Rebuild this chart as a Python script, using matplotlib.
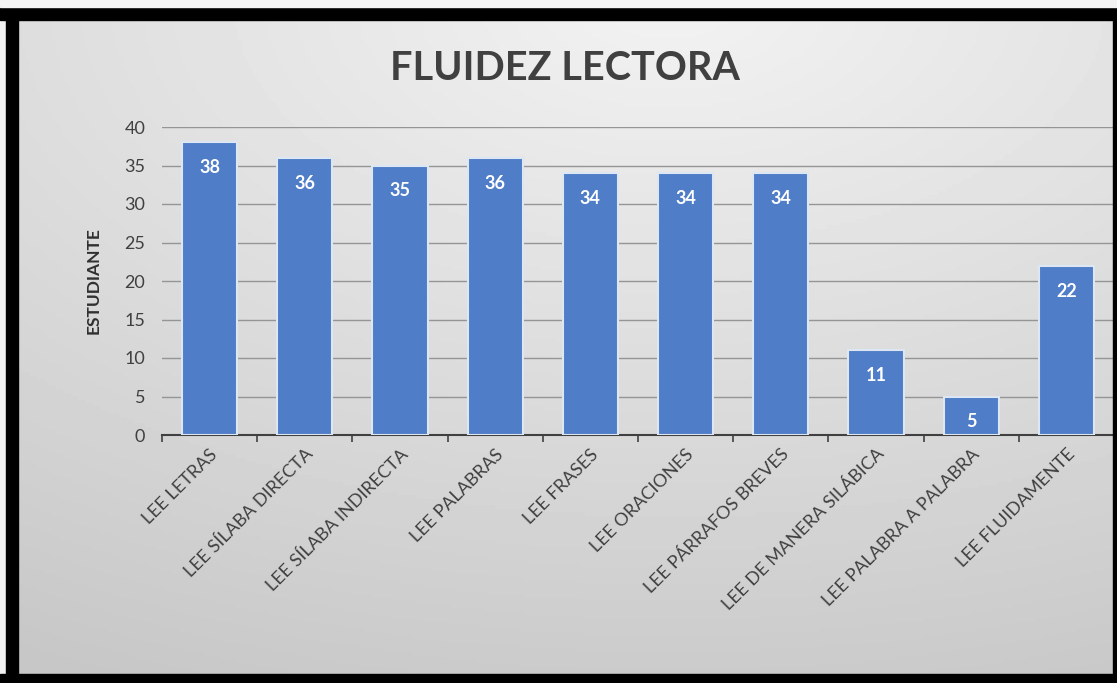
import matplotlib.pyplot as plt
import numpy as np
from matplotlib.patches import Rectangle

plt.rcParams['font.family'] = ['Lato', 'DejaVu Sans']

categories = ['LEE LETRAS', 'LEE SÍLABA DIRECTA', 'LEE SÍLABA INDIRECTA', 'LEE PALABRAS',
              'LEE FRASES', 'LEE ORACIONES', 'LEE PÁRRAFOS BREVES',
              'LEE DE MANERA SILÁBICA', 'LEE PALABRA A PALABRA', 'LEE FLUIDAMENTE']
values = [38, 36, 35, 36, 34, 34, 34, 11, 5, 22]
yticks = [0, 5, 10, 15, 20, 25, 30, 35, 40]

W, H = 1117, 683
fig = plt.figure(figsize=(W / 100, H / 100), dpi=100)

# gray gradient background (lighter towards the top middle)
bg = fig.add_axes([0, 0, 1, 1], zorder=-10)
gx, gy = np.meshgrid(np.linspace(0, 1, 300), np.linspace(0, 1, 200))
d = np.sqrt(((gx - 0.6) * 1.0) ** 2 + ((gy - 1.0) * 1.1) ** 2)
shade = 0.95 - 0.17 * np.clip(d, 0, 1.2) / 1.2
bg.imshow(shade, cmap='gray', vmin=0, vmax=1, extent=[0, 1, 0, 1],
          origin='lower', aspect='auto')
bg.axis('off')

# black picture frame
fig.patches.append(Rectangle((0, 0), 6 / W, 1, transform=fig.transFigure,
                             color='#f2f2f2', zorder=4))
frame = [(6 / W, 0, 12 / W, 1), (0, 1 - 20 / H, 1, 13 / H),
         (0, 0, 1, 9 / H), (1 - 4 / W, 0, 4 / W, 1)]
for fx, fy, fw, fh in frame:
    fig.patches.append(Rectangle((fx, fy), fw, fh, transform=fig.transFigure,
                                 color='black', zorder=5))
fig.patches.append(Rectangle((0, 1 - 7 / H), 1, 7 / H, transform=fig.transFigure,
                             color='#f4f4f4', zorder=6))

ax = fig.add_axes([162 / W, 1 - 435 / H, (1114 - 162) / W, (435 - 127) / H])
ax.patch.set_alpha(0)
x = np.arange(len(categories))
ax.bar(x, values, width=0.58, color='#4f7dc8', edgecolor='#dde7f3',
       linewidth=1.5, zorder=3)
for xi, v in zip(x, values):
    ax.text(xi, v - 3.3, str(v), ha='center', va='center', color='white',
            fontsize=13, fontweight='bold', zorder=4)

ax.set_xlim(-0.5, len(categories) - 0.5)
ax.set_ylim(0, 40)
ax.set_yticks(yticks)
ax.set_yticklabels([str(t) for t in yticks], fontsize=13, color='#404040')
ax.yaxis.grid(True, color='#959595', linewidth=1, zorder=0)
ax.tick_params(axis='y', length=0, pad=12)

ax.set_xticks(x)
ax.set_xticklabels(categories, rotation=45, ha='right', rotation_mode='anchor',
                   fontsize=13, color='#404040')
ax.set_xticks(np.arange(len(categories) + 1) - 0.5, minor=True)
ax.tick_params(axis='x', which='major', length=0, pad=8)
ax.tick_params(axis='x', which='minor', length=5, width=1.2, color='#404040',
               direction='out')

for s in ['top', 'right', 'left']:
    ax.spines[s].set_visible(False)
ax.spines['bottom'].set_color('#404040')
ax.spines['bottom'].set_linewidth(1.5)

ax.set_ylabel('ESTUDIANTE', fontsize=12.5, fontweight='bold', color='#303030',
              labelpad=16)
fig.text(565 / W, 1 - 68 / H, 'FLUIDEZ LECTORA', ha='center', va='center',
         fontsize=28.5, fontweight='bold', color='#404040')

plt.savefig('out.png', dpi=100)
